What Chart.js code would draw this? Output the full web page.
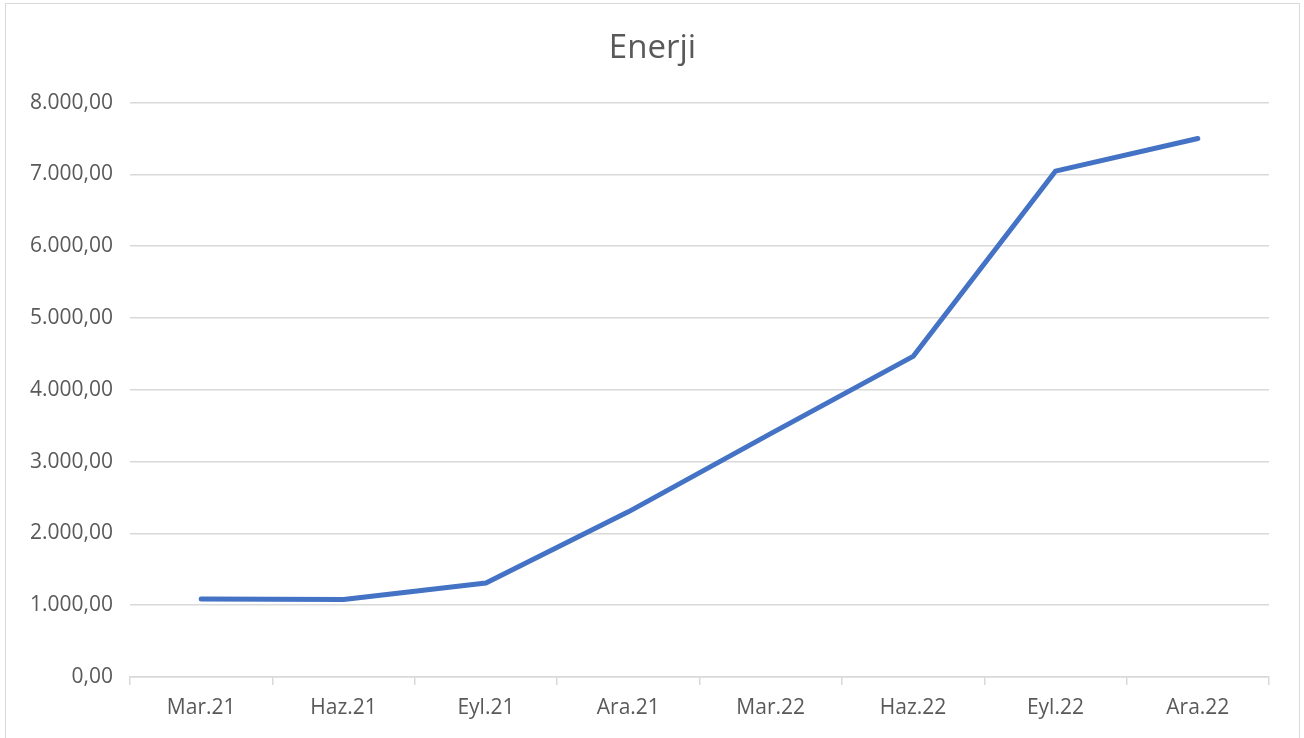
<!DOCTYPE html>
<html>
<head>
<meta charset="utf-8">
<script src="https://cdn.jsdelivr.net/npm/chart.js@4/dist/chart.umd.min.js"></script>
<style>
	body { margin: 0; background: #fff; overflow: hidden; }
	#box { position: absolute; left: 5px; top: 3px; width: 1293px; height: 780px; border: 1px solid #d9d9d9; }
</style>
</head>
<body>
<div id="box"><canvas id="myChart" width="1293" height="780"></canvas></div>
<script>
var months = ['Mar.21', 'Haz.21', 'Eyl.21', 'Ara.21', 'Mar.22', 'Haz.22', 'Eyl.22', 'Ara.22'];
var energy = [1085, 1080, 1310, 2300, 3390, 4465, 7045, 7500];
var yTicks = [0, 1000, 2000, 3000, 4000, 5000, 6000, 7000, 8000];

// 8000 -> "8.000,00"
function trFormat(v) {
	var parts = v.toFixed(2).split('.');
	var whole = parts[0].replace(/\B(?=(\d{3})+(?!\d))/g, '.');
	return whole + ',' + parts[1];
}

var grey = '#595959';
var gridCol = '#d9d9d9';

var ctx = document.getElementById('myChart').getContext('2d');
var myChart = new Chart(ctx, {
	type: 'line',
	data: {
		labels: months,
		datasets: [{
			label: 'Enerji',
			data: energy,
			borderColor: '#4472C4',
			backgroundColor: '#4472C4',
			borderWidth: 5,
			borderCapStyle: 'round',
			borderJoinStyle: 'round',
			pointRadius: 0,
			tension: 0,
			fill: false
		}]
	},
	options: {
		responsive: false,
		animation: false,
		layout: { padding: 0 },
		plugins: {
			legend: { display: false },
			tooltip: { enabled: false },
			title: {
				display: true,
				text: 'Enerji',
				color: grey,
				font: { family: 'Open Sans', size: 33, weight: 'normal' },
				padding: { top: 25, bottom: 34 }
			}
		},
		scales: {
			x: {
				offset: true,
				grid: { display: true, drawOnChartArea: false, drawTicks: true, tickLength: 8, color: gridCol, lineWidth: 1.5, offset: true },
				border: { display: true, color: gridCol, width: 1.5 },
				ticks: { color: grey, font: { family: 'Open Sans', size: 21 }, padding: 10, maxRotation: 0 },
				afterFit: function (scale) { scale.height = 107; }
			},
			y: {
				min: 0,
				max: 8000,
				afterBuildTicks: function (scale) {
					scale.ticks = yTicks.map(function (v) { return { value: v }; });
				},
				grid: { color: gridCol, lineWidth: 1.5, drawTicks: false },
				border: { display: false },
				ticks: {
					color: grey,
					font: { family: 'Open Sans', size: 21 },
					padding: 17,
					callback: function (value) { return trFormat(value); }
				},
				afterFit: function (scale) { scale.width = 124; }
			},
			// empty right margin so the title stays centred on the whole box
			yRight: {
				position: 'right',
				display: true,
				grid: { display: false },
				border: { display: false },
				ticks: { display: false },
				afterFit: function (scale) { scale.width = 30; }
			}
		}
	}
});
</script>
</body>
</html>
